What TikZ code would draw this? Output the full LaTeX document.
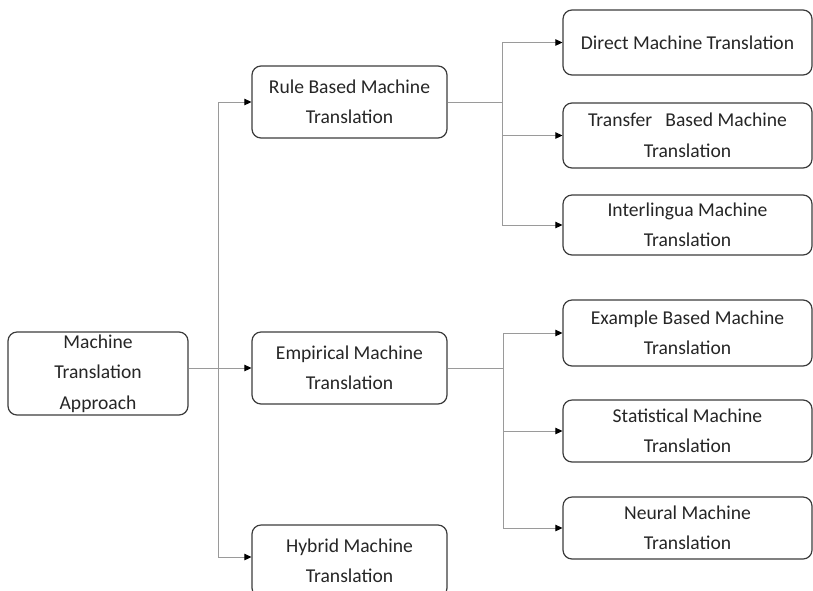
\documentclass[tikz,border=0pt]{standalone}
\usepackage{fontspec}
\setmainfont{Carlito}
\usetikzlibrary{arrows.meta,positioning}
\definecolor{boxline}{HTML}{3C3C3C}
\definecolor{connline}{HTML}{9A9A9A}
\definecolor{txt}{HTML}{262626}
\tikzset{
  mtbox/.style={draw=boxline, line width=1.2pt, rounded corners=9pt, align=center,
    text=txt, font=\fontsize{19.6}{30.5}\selectfont, inner sep=0pt},
  conn/.style={draw=connline, line width=0.9pt},
  arr/.style={conn, -{Triangle[length=7pt,width=6.5pt,color=black]}},
}
\begin{document}
\begin{tikzpicture}[x=1pt,y=-1pt]
\clip (0,0) rectangle (813,590);
\fill[white] (0,0) rectangle (813,590);
% root
\node[mtbox, minimum width=180pt, minimum height=83pt] (root) at (98,373.5) {Machine\\Translation\\Approach};
% middle level
\node[mtbox, minimum width=195pt, minimum height=72pt] (rule) at (349.5,102) {Rule Based Machine\\Translation};
\node[mtbox, minimum width=195pt, minimum height=72pt] (emp) at (349.5,368) {Empirical Machine\\Translation};
\node[mtbox, minimum width=195pt, minimum height=72pt] (hyb) at (349.5,561) {Hybrid Machine\\Translation};
% right level
\node[mtbox, minimum width=249pt, minimum height=65pt] (dir) at (687.5,42.5) {Direct Machine Translation};
\node[mtbox, minimum width=249pt, minimum height=65pt] (tra) at (687.5,135.5) {Transfer\ \ \ Based Machine\\Translation};
\node[mtbox, minimum width=249pt, minimum height=60pt] (int) at (687.5,225) {Interlingua Machine\\Translation};
\node[mtbox, minimum width=249pt, minimum height=66pt] (exa) at (687.5,333) {Example Based Machine\\Translation};
\node[mtbox, minimum width=249pt, minimum height=62pt] (sta) at (687.5,431) {Statistical Machine\\Translation};
\node[mtbox, minimum width=249pt, minimum height=62pt] (neu) at (687.5,528) {Neural Machine\\Translation};
% junctions
\coordinate (j1) at (218,368);
\coordinate (j2) at (502,102);
\coordinate (j3) at (503,368);
% connectors from root
\draw[arr] (root.east |- emp.west) -- (emp.west);
\draw[arr] (j1) |- (rule.west);
\draw[arr] (j1) |- (hyb.west |- 0,557);
% rule based branches
\draw[conn] (rule.east) -- (j2);
\draw[arr] (j2) |- (dir.west);
\draw[arr] (j2) |- (tra.west);
\draw[arr] (j2) |- (int.west);
% empirical branches
\draw[conn] (emp.east) -- (j3);
\draw[arr] (j3) |- (exa.west);
\draw[arr] (j3) |- (sta.west);
\draw[arr] (j3) |- (neu.west);
\end{tikzpicture}
\end{document}
